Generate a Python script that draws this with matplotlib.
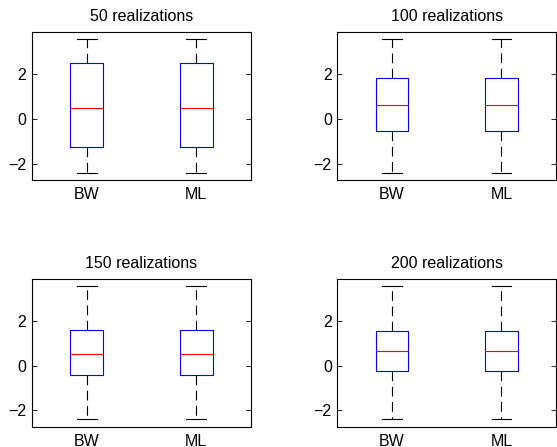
import matplotlib.pyplot as plt

plt.rcParams['font.family'] = ['Liberation Sans', 'DejaVu Sans']
plt.rcParams['lines.scale_dashes'] = False

# box statistics
titles = ["50 realizations", "100 realizations", "150 realizations", "200 realizations"]
labels = ["BW", "ML"]
medians = [0.51, 0.61, 0.55, 0.67]
q1 = [-1.25, -0.55, -0.43, -0.22]
q3 = [2.50, 1.82, 1.62, 1.58]
whislo = [-2.40, -2.40, -2.40, -2.40]
whishi = [3.59, 3.59, 3.59, 3.59]

fig = plt.figure(figsize=(5.57, 4.47), dpi=100)

# axes positions (figure fraction), right column runs off the right edge
positions = [
    [0.0575, 0.597, 0.393, 0.331],
    [0.6056, 0.597, 0.393, 0.331],
    [0.0575, 0.0454, 0.393, 0.330],
    [0.6056, 0.0454, 0.393, 0.330],
]

for i in range(4):
    ax = fig.add_axes(positions[i])
    stats = []
    for lab in labels:
        stats.append({
            "label": lab,
            "med": medians[i],
            "q1": q1[i],
            "q3": q3[i],
            "whislo": whislo[i],
            "whishi": whishi[i],
            "fliers": [],
        })
    ax.bxp(stats, positions=[1, 2], widths=0.3, capwidths=0.18,
           showfliers=False,
           boxprops=dict(color="blue", linewidth=0.8),
           medianprops=dict(color="red", linewidth=0.8),
           whiskerprops=dict(color="black", linewidth=0.8, linestyle=(0, (7, 4))),
           capprops=dict(color="black", linewidth=0.8))
    ax.set_xlim(0.5, 2.5)
    ax.set_ylim(-2.73, 3.89)
    ax.set_yticks([-2, 0, 2])
    ax.set_yticklabels(["\u22122", "0", "2"])
    ax.tick_params(axis="y", direction="in", right=True, length=3.5, labelsize=11.5, width=0.6, pad=4)
    ax.tick_params(axis="x", length=0, labelsize=11.5, pad=5)
    ax.set_title(titles[i], fontsize=11.5, pad=8)
    for sp in ax.spines.values():
        sp.set_linewidth(0.8)

plt.savefig("out.png", dpi=100)
